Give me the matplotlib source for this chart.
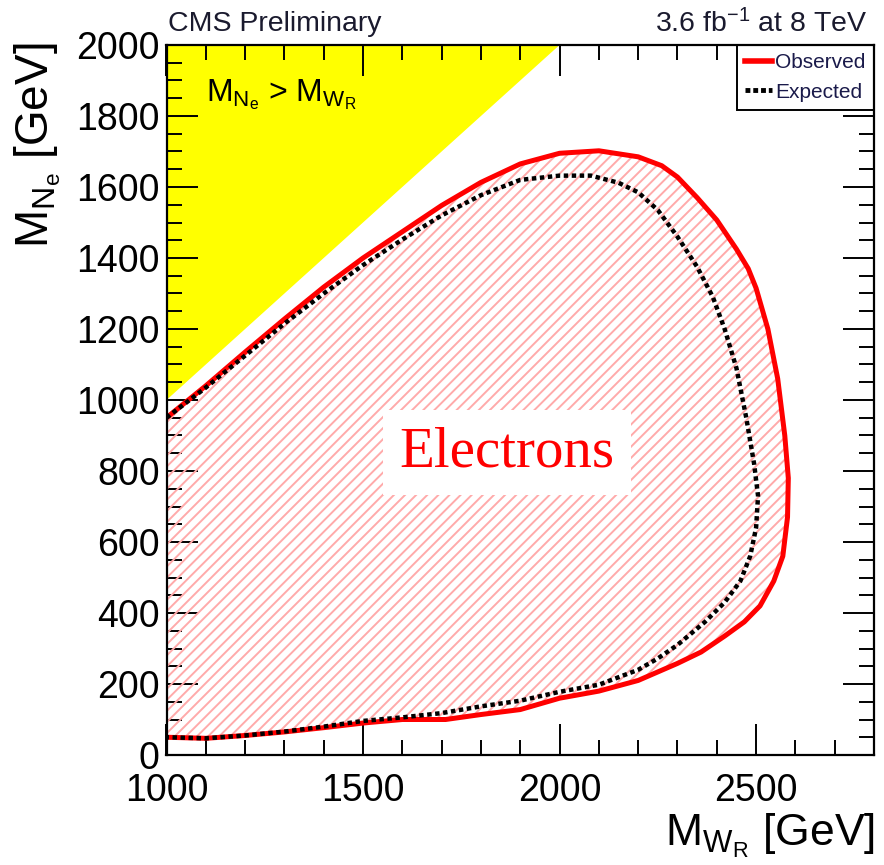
import matplotlib
matplotlib.use("Agg")
import matplotlib.pyplot as plt
from matplotlib.patches import Polygon
from matplotlib.lines import Line2D
from matplotlib.ticker import MultipleLocator

plt.rcParams['font.family'] = ['Liberation Sans', 'DejaVu Sans']
plt.rcParams['mathtext.fontset'] = 'custom'
plt.rcParams['mathtext.rm'] = 'Liberation Sans'
plt.rcParams['mathtext.it'] = 'Liberation Sans:italic'
plt.rcParams['mathtext.default'] = 'regular'
plt.rcParams['hatch.linewidth'] = 1.4

# Observed 95% CL exclusion contour (M_WR, M_Ne) in GeV
obs_mw = [1000, 1100, 1200, 1300, 1400, 1500, 1600, 1700, 1800, 1900, 2000,
          2100, 2200, 2260, 2300, 2350, 2400, 2450, 2480, 2500, 2530, 2555,
          2573, 2582, 2580, 2568, 2545, 2510, 2470, 2420, 2360, 2300, 2200,
          2100, 2000, 1900, 1800, 1710, 1600, 1500, 1400, 1300, 1200, 1100, 1000]
obs_mn = [950, 1040, 1135, 1228, 1318, 1400, 1474, 1548, 1613, 1665, 1695,
          1702, 1685, 1660, 1628, 1570, 1507, 1425, 1370, 1315, 1200, 1060,
          900, 780, 670, 560, 490, 420, 375, 335, 290, 258, 210,
          180, 160, 128, 114, 100, 100, 90, 77, 65, 55, 47, 50]

# Expected exclusion contour
exp_mw = [1000, 1100, 1200, 1300, 1400, 1500, 1600, 1700, 1800, 1900, 2000,
          2080, 2150, 2200, 2250, 2300, 2350, 2390, 2420, 2450, 2475, 2495,
          2505, 2500, 2485, 2460, 2420, 2370, 2300, 2250, 2200, 2100, 2000,
          1900, 1800, 1700, 1600, 1500, 1400, 1300, 1200, 1100, 1000]
exp_mn = [950, 1035, 1125, 1215, 1300, 1380, 1452, 1520, 1577, 1620, 1632,
          1632, 1612, 1585, 1535, 1460, 1375, 1290, 1200, 1090, 950, 820,
          730, 640, 560, 490, 430, 375, 310, 272, 240, 198, 178,
          153, 137, 118, 106, 96, 80, 66, 55, 47, 50]

# Kinematically forbidden region M_N > M_W
forbidden_mw = [1000, 2000, 1000]
forbidden_mn = [1000, 2000, 2000]

x_ticks = [1000, 1500, 2000, 2500]
y_ticks = [0, 200, 400, 600, 800, 1000, 1200, 1400, 1600, 1800, 2000]

W, H = 884, 865
fig = plt.figure(figsize=(W / 100, H / 100), dpi=100)
ax = fig.add_axes([166.5 / W, 1 - 755 / H, (874 - 166.5) / W, (755 - 45) / H])
ax.set_xlim(1000, 2800)
ax.set_ylim(0, 2000)

ax.add_patch(Polygon(list(zip(forbidden_mw, forbidden_mn)), closed=True,
                     facecolor='#ffff00', edgecolor='none', zorder=1))

ax.add_patch(Polygon(list(zip(obs_mw, obs_mn)), closed=True, facecolor='none',
                     edgecolor='#ffaaaa', linewidth=0, hatch='///', zorder=2))

ax.plot(exp_mw, exp_mn, color='black', linewidth=3.2,
        linestyle=(0, (1.0, 0.8)), dash_capstyle='butt', zorder=4)
ax.plot(obs_mw, obs_mn, color='#ff0000', linewidth=3.6, zorder=3,
        solid_joinstyle='round')

ax.text(1866, 853, 'Electrons', color='#ff0000', fontsize=41,
        family=['Liberation Serif', 'DejaVu Serif'], ha='center', va='center',
        zorder=6, bbox=dict(facecolor='white', edgecolor='none', pad=12))

ax.text(1100, 1860, r'$M_{N_{e}}$ > $M_{W_{R}}$', fontsize=23, ha='left',
        va='center', zorder=6)

for s in ax.spines.values():
    s.set_linewidth(1.6)
    s.set_zorder(10)

ax.set_xticks(x_ticks)
ax.set_yticks(y_ticks)
ax.xaxis.set_minor_locator(MultipleLocator(100))
ax.yaxis.set_minor_locator(MultipleLocator(50))
ax.tick_params(which='both', direction='in', top=True, right=True, width=1.4)
ax.tick_params(which='major', length=22)
ax.tick_params(which='minor', length=11)
ax.tick_params(axis='x', labelsize=27, pad=13)
ax.tick_params(axis='y', labelsize=27, pad=5)

fig.text(875 / W, 1 - 836 / H, r'$M_{W_{R}}$ [GeV]', fontsize=32,
         ha='right', va='center')
fig.text(12 / W, 1 - 43 / H, r'$M_{N_{e}}$ [GeV]', fontsize=33,
         ha='left', va='top', rotation=90)

fig.text(168 / W, 1 - 24 / H, 'CMS Preliminary', fontsize=20.5, ha='left',
         va='center', color='#1a1a2e')
fig.text(868 / W, 1 - 24 / H, r'3.6 fb$^{-1}$ at 8 TeV', fontsize=20.5,
         ha='right', va='center', color='#1a1a2e')

handles = [Line2D([], [], color='#ff0000', linewidth=4),
           Line2D([], [], color='black', linewidth=3.5,
                  linestyle=(0, (1.0, 0.6)), dash_capstyle='butt')]
leg = ax.legend(handles, ['Observed', 'Expected'], loc='upper right',
                bbox_to_anchor=(1, 1), borderaxespad=0, fancybox=False,
                framealpha=1, edgecolor='black', fontsize=15,
                handlelength=1.3, handletextpad=0.15, borderpad=0.4,
                labelspacing=0.5)
leg.get_frame().set_linewidth(1.4)
leg.set_zorder(8)
for t in leg.get_texts():
    t.set_color('#1a1a4a')

fig.savefig('out.png', dpi=100)
